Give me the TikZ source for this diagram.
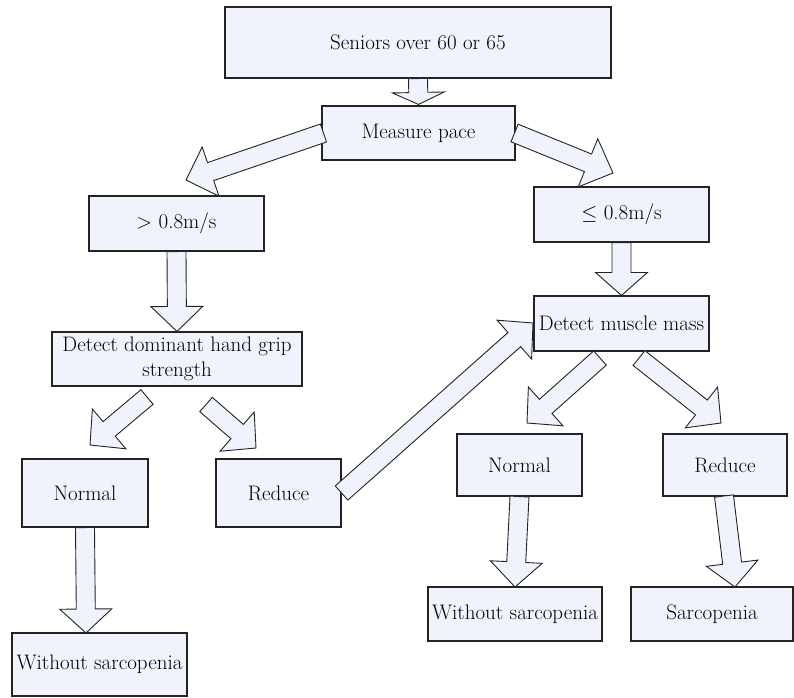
\documentclass[tikz,border=0pt]{standalone}
\usetikzlibrary{calc}
\definecolor{boxfill}{RGB}{240,243,251}
\definecolor{edgecol}{RGB}{35,35,35}
\tikzset{
  box/.style={draw=edgecol, fill=boxfill, line width=1.1pt, inner sep=0pt, align=center,
    font=\rmfamily\fontsize{21}{25}\selectfont},
  barr/.style={draw=edgecol, fill=boxfill, line width=0.9pt, line join=miter},
}
% #1 head length (pt), #2 start coordinate name, #3 tip coordinate name
\newcommand{\blockarr}[3]{%
  \path coordinate (hb) at ($(#3)!#1pt!(#2)$);
  \draw[barr] ($(#2)!9.5pt!90:(#3)$) -- ($(hb)!9.5pt!90:(#3)$) -- ($(hb)!26pt!90:(#3)$)
    -- (#3) -- ($(hb)!26pt!-90:(#3)$) -- ($(hb)!9.5pt!-90:(#3)$) -- ($(#2)!9.5pt!-90:(#3)$) -- cycle;
}
\begin{document}
\begin{tikzpicture}[x=1pt,y=-1pt]
\useasboundingbox (0,0) rectangle (794,697);
\node[box, minimum width=386pt, minimum height=71pt] (seniors) at (418,42.5) {Seniors over 60 or 65};
\node[box, minimum width=193pt, minimum height=54pt] (measure) at (418.5,133) {Measure pace};
\node[box, minimum width=175pt, minimum height=55pt] (gt) at (176.5,223.5) {$>$ 0.8m/s};
\node[box, minimum width=175pt, minimum height=55pt] (le) at (621.5,214.5) {$\le$ 0.8m/s};
\node[box, minimum width=250pt, minimum height=54pt] (dom) at (177,359) {Detect dominant hand grip\\strength};
\node[box, minimum width=175pt, minimum height=55pt] (mus) at (621.5,323.5) {Detect muscle mass};
\node[box, minimum width=126pt, minimum height=68pt] (norL) at (85,493) {Normal};
\node[box, minimum width=125pt, minimum height=68pt] (redL) at (278.5,493) {Reduce};
\node[box, minimum width=175pt, minimum height=63pt] (withL) at (99.5,664.5) {Without sarcopenia};
\node[box, minimum width=125pt, minimum height=62pt] (norR) at (519.5,465) {Normal};
\node[box, minimum width=124pt, minimum height=62pt] (redR) at (725,465) {Reduce};
\node[box, minimum width=174pt, minimum height=54pt] (withR) at (515,614) {Without sarcopenia};
\node[box, minimum width=162pt, minimum height=54pt] (sarc) at (712,614) {Sarcopenia};
% connector end points
\coordinate (s1) at (seniors.south);
\coordinate (t1) at ($(measure.north)+(0,-1)$);
\coordinate (s2) at ($(measure.west)+(2,0)$);
\coordinate (t2) at (186,180);
\coordinate (s3) at ($(measure.east)+(-1,0)$);
\coordinate (t3) at (613,173);
\coordinate (s4) at (gt.south);
\coordinate (t4) at (dom.north);
\coordinate (s5) at (le.south);
\coordinate (t5) at (mus.north);
\coordinate (s6) at (147,397);
\coordinate (t6) at (90,445);
\coordinate (s7) at (206,404.5);
\coordinate (t7) at (256,448);
\coordinate (s8) at (redL.east);
\coordinate (t8) at (533,323);
\coordinate (s9) at (600,358);
\coordinate (t9) at (527,423);
\coordinate (s10) at (639,358);
\coordinate (t10) at (721,423);
\coordinate (s11) at (norL.south);
\coordinate (t11) at (86,633);
\coordinate (s12) at (norR.south);
\coordinate (t12) at (515,587);
\coordinate (s13) at (724,496);
\coordinate (t13) at (735,587);
\blockarr{12}{s1}{t1}
\blockarr{26}{s2}{t2}
\blockarr{27}{s3}{t3}
\blockarr{25}{s4}{t4}
\blockarr{23}{s5}{t5}
\blockarr{25}{s6}{t6}
\blockarr{25}{s7}{t7}
\blockarr{25}{s8}{t8}
\blockarr{25}{s9}{t9}
\blockarr{25}{s10}{t10}
\blockarr{24}{s11}{t11}
\blockarr{25}{s12}{t12}
\blockarr{24}{s13}{t13}
\end{tikzpicture}
\end{document}
